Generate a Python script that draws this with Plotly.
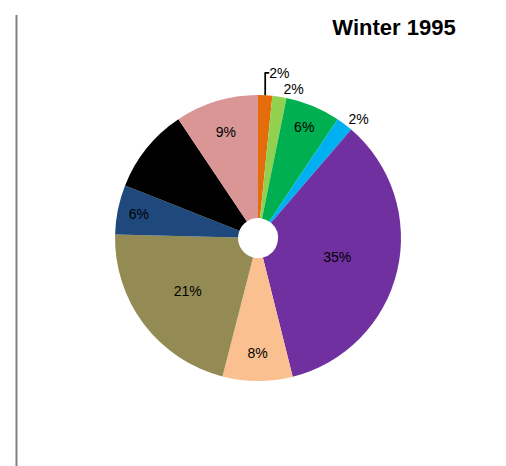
import plotly.graph_objects as go

categories = ["Orange", "Light green", "Green", "Light blue", "Purple",
              "Peach", "Olive", "Dark blue", "Black", "Pink"]
values = [1.6, 1.6, 6.2, 1.9, 34.8, 7.9, 21.4, 5.6, 9.6, 9.4]
colors = ["#E46C0A", "#92D050", "#00B050", "#00B0F0", "#7030A0",
          "#FAC090", "#948A54", "#1F497D", "#000000", "#D99694"]
text_pos = ["outside", "outside", "inside", "outside", "inside",
            "inside", "inside", "inside", "inside", "inside"]

fig = go.Figure(go.Pie(
    labels=categories,
    values=values,
    marker=dict(colors=colors, line=dict(width=0)),
    sort=False,
    direction="clockwise",
    rotation=0,
    hole=0.14,
    textinfo="percent",
    texttemplate="%{percent:.0%}",
    textposition=text_pos,
    insidetextorientation="horizontal",
    textfont=dict(family="Liberation Sans, Arial", size=14, color="#000000"),
    domain=dict(x=[0.2115, 0.7767], y=[0.1996, 0.8132]),
    showlegend=False,
))

fig.update_layout(
    width=506, height=466,
    margin=dict(l=0, r=0, t=0, b=0),
    paper_bgcolor="white",
    plot_bgcolor="white",
    title=dict(text="<b>Winter 1995</b>", x=386 / 506, xanchor="center",
               y=1 - 19 / 466, yanchor="middle",
               font=dict(family="Liberation Sans, Arial", size=22, color="#000000")),
    shapes=[dict(type="line", xref="paper", yref="paper",
                 x0=8.5 / 506, x1=8.5 / 506, y0=1 - 7 / 466, y1=1 - 465 / 466,
                 line=dict(color="#808080", width=2))],
)

fig.write_html("out.html")
